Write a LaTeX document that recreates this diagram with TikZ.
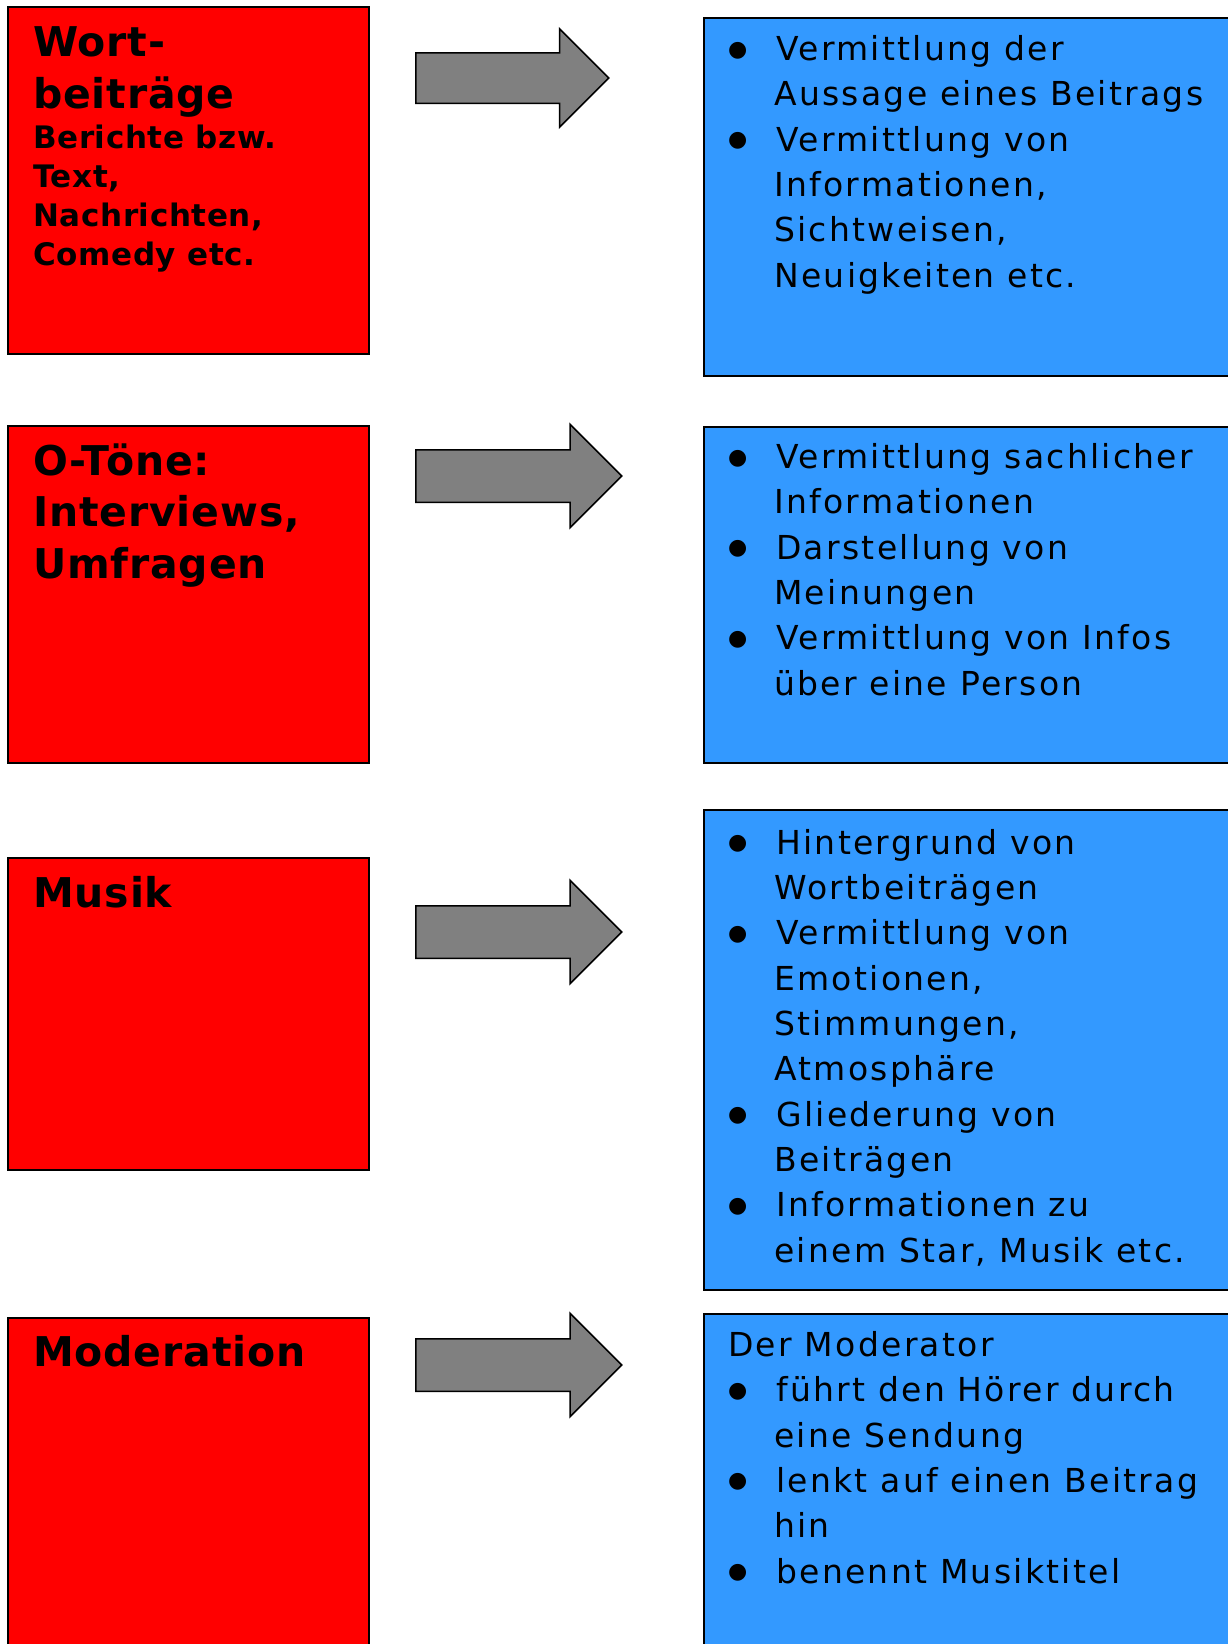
\documentclass[tikz,border=0pt]{standalone}
\usepackage{fontspec}
\setmainfont{DejaVu Sans}
\newfontfamily\bodyfont{DejaVu Sans}[LetterSpace=7]
\newfontfamily\headfont{DejaVu Sans}[LetterSpace=2]
\usetikzlibrary{shapes.arrows, positioning}

\definecolor{boxred}{RGB}{255,0,0}
\definecolor{boxblue}{RGB}{51,153,255}
\definecolor{arrowgray}{RGB}{128,128,128}

\newcommand{\bul}{\makebox[48pt][l]{\raisebox{4.5pt}{\fontsize{22}{22}\selectfont ●}}}
\newcommand{\ind}{\hspace*{46pt}}

\begin{document}
\begin{tikzpicture}[x=1pt, y=-1pt,
	redbox/.style={rectangle, draw=black, line width=1.5pt, fill=boxred, anchor=north west, inner sep=0pt},
	bluebox/.style={rectangle, draw=black, line width=1.5pt, fill=boxblue, anchor=north west, inner sep=0pt},
	pfeil/.style={single arrow, draw=black, line width=1.5pt, fill=arrowgray, inner sep=0pt, anchor=tail, minimum height=206pt, text height=25.5pt, text depth=25.5pt, single arrow head extend=25.5pt},
	head/.style={anchor=base west, inner sep=0pt, align=left, font=\headfont\bfseries\fontsize{41}{51.5}\selectfont},
	subhead/.style={anchor=base west, inner sep=0pt, align=left, font=\headfont\bfseries\fontsize{31}{39}\selectfont},
	bullets/.style={anchor=base west, inner sep=0pt, align=left, font=\bodyfont\fontsize{33}{45.3}\selectfont}]
	\useasboundingbox (0,0) rectangle (1228,1644);
	\clip (0,0) rectangle (1228,1644);

	% Red boxes
	\node[redbox, minimum width=361pt, minimum height=347pt] (r1) at (7,6) {};
	\node[redbox, minimum width=361pt, minimum height=337pt] (r2) at (7,425) {};
	\node[redbox, minimum width=361pt, minimum height=312pt] (r3) at (7,857) {};
	\node[redbox, minimum width=361pt, minimum height=343pt] (r4) at (7,1317) {};

	% Blue boxes
	\node[bluebox, minimum width=540pt, minimum height=358pt] (b1) at (703,17) {};
	\node[bluebox, minimum width=540pt, minimum height=336pt] (b2) at (703,426) {};
	\node[bluebox, minimum width=540pt, minimum height=480pt] (b3) at (703,809) {};
	\node[bluebox, minimum width=540pt, minimum height=347pt] (b4) at (703,1313) {};

	% Arrows
	\node[pfeil, minimum height=193pt, text height=24.5pt, text depth=24.5pt, single arrow head extend=24pt] (p1) at (415,78) {};
	\node[pfeil] (p2) at (415,476) {};
	\node[pfeil] (p3) at (415,932) {};
	\node[pfeil] (p4) at (415,1365) {};

	% Left texts (placed at their last baseline)
	\node[head] (wort) at (33,108) {Wort-\\beiträge};
	\node[subhead] (wortsub) at (33,265) {Berichte bzw.\\Text,\\Nachrichten,\\Comedy etc.};
	\node[head] (oton) at (33,578) {O-Töne:\\Interviews,\\Umfragen};
	\node[head] (musik) at (33,907) {Musik};
	\node[head] (moder) at (33,1366) {Moderation};

	% Right texts (placed at their last baseline)
	\node[bullets] (wortinfo) at (728,287) {\bul Vermittlung der\\\ind Aussage eines Beitrags\\\bul Vermittlung von\\\ind Informationen,\\\ind Sichtweisen,\\\ind Neuigkeiten etc.};
	\node[bullets] (otoninfo) at (728,695) {\bul Vermittlung sachlicher\\\ind Informationen\\\bul Darstellung von\\\ind Meinungen\\\bul Vermittlung von Infos\\\ind über eine Person};
	\node[bullets] (musikinfo) at (728,1262) {\bul Hintergrund von\\\ind Wortbeiträgen\\\bul Vermittlung von\\\ind Emotionen,\\\ind Stimmungen,\\\ind Atmosphäre\\\bul Gliederung von\\\ind Beiträgen\\\bul Informationen zu\\\ind einem Star, Musik etc.};
	\node[bullets] (moderinfo) at (728,1583) {Der Moderator\\\bul führt den Hörer durch\\\ind eine Sendung\\\bul lenkt auf einen Beitrag\\\ind hin\\\bul benennt Musiktitel};
\end{tikzpicture}
\end{document}
